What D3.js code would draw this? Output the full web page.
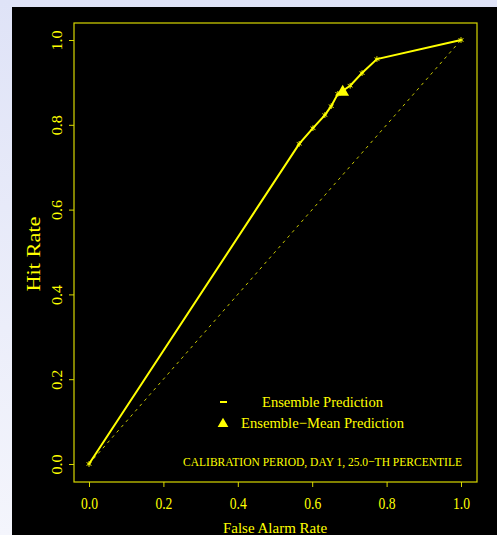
<!DOCTYPE html>
<html>
<head>
<meta charset="utf-8">
<script src="https://cdn.jsdelivr.net/npm/d3@7"></script>
<style>
  html, body { margin: 0; padding: 0; }
  body { width: 497px; height: 535px; overflow: hidden;
         background: linear-gradient(to bottom, #dfe3f7, #f4f5fc); }
  svg { display: block; }
</style>
</head>
<body>
<svg id="chart" width="497" height="535"></svg>
<script>
// ROC points
const falseAlarm = [0.0, 0.565, 0.602, 0.634, 0.651, 0.669, 0.702, 0.734, 0.774, 1.0];
const hitRate    = [0.0, 0.755, 0.792, 0.823, 0.844, 0.873, 0.892, 0.922, 0.955, 1.0];
const meanPoint = [0.682, 0.877];
const ticks = [0.0, 0.2, 0.4, 0.6, 0.8, 1.0];
const legendLabels = ['Ensemble Prediction', 'Ensemble\u2212Mean Prediction'];
const caption = 'CALIBRATION PERIOD, DAY 1, 25.0\u2212TH PERCENTILE';

const svg = d3.select('#chart');
const yellow = '#ffff00';
const serif = '"Liberation Serif", "DejaVu Serif", serif';

// black plotting panel
svg.append('rect')
  .attr('x', 12).attr('y', 7).attr('width', 485).attr('height', 528)
  .attr('fill', '#000');

const x = d3.scaleLinear().domain([0, 1]).range([89, 461]);
const y = d3.scaleLinear().domain([0, 1]).range([464, 40]);

// frame
svg.append('rect')
  .attr('x', 74).attr('y', 23).attr('width', 403).attr('height', 459)
  .attr('fill', 'none').attr('stroke', '#d8d800').attr('stroke-width', 1.2);

// axes
const xAxis = svg.append('g')
  .attr('transform', 'translate(0,482)')
  .call(d3.axisBottom(x).tickValues(ticks).tickFormat(d3.format('.1f')).tickSize(5).tickPadding(11));
const yAxis = svg.append('g')
  .attr('transform', 'translate(74,0)')
  .call(d3.axisLeft(y).tickValues(ticks).tickFormat(d3.format('.1f')).tickSize(5));

[xAxis, yAxis].forEach(g => {
  g.select('.domain').remove();
  g.selectAll('line').attr('stroke', '#d8d800');
  g.selectAll('text').attr('fill', yellow).style('font-family', serif).style('font-size', '15px');
});
xAxis.selectAll('text')
  .style('font-size', '16px')
  .attr('textLength', 17).attr('lengthAdjust', 'spacingAndGlyphs');
// rotated y tick labels, set inside each tick group
yAxis.selectAll('text')
  .attr('text-anchor', 'middle')
  .attr('x', 0).attr('y', 0).attr('dy', null)
  .attr('transform', 'translate(-12,0) rotate(-90)')
  .attr('textLength', 20).attr('lengthAdjust', 'spacingAndGlyphs');

// axis titles
svg.append('text')
  .attr('x', 275).attr('y', 533)
  .attr('text-anchor', 'middle').attr('fill', yellow)
  .style('font-family', serif).style('font-size', '15px')
  .text('False Alarm Rate');
svg.append('text')
  .attr('transform', 'translate(40,254) rotate(-90)')
  .attr('text-anchor', 'middle').attr('fill', yellow)
  .style('font-family', serif).style('font-size', '19px')
  .attr('textLength', 75).attr('lengthAdjust', 'spacingAndGlyphs')
  .text('Hit Rate');

// no-skill diagonal
svg.append('line')
  .attr('x1', x(0)).attr('y1', y(0)).attr('x2', x(1)).attr('y2', y(1))
  .attr('stroke', '#c8c800').attr('stroke-width', 1)
  .attr('stroke-dasharray', '3,4');

// ROC curve
const pts = falseAlarm.map((f, i) => [f, hitRate[i]]);
svg.append('path')
  .datum(pts)
  .attr('d', d3.line().x(d => x(d[0])).y(d => y(d[1])))
  .attr('fill', 'none').attr('stroke', yellow).attr('stroke-width', 2);

// small star markers
svg.append('g').selectAll('path')
  .data(pts)
  .join('path')
  .attr('d', d3.symbol(d3.symbolAsterisk, 22))
  .attr('transform', d => `translate(${x(d[0])},${y(d[1])})`)
  .attr('fill', 'none').attr('stroke', yellow).attr('stroke-width', 1);

// ensemble-mean triangle
svg.append('path')
  .attr('d', d3.symbol(d3.symbolTriangle, 70))
  .attr('transform', `translate(${x(meanPoint[0])},${y(meanPoint[1])})`)
  .attr('fill', yellow);

// legend
svg.append('line')
  .attr('x1', 220).attr('x2', 227).attr('y1', 402).attr('y2', 402)
  .attr('stroke', yellow).attr('stroke-width', 2);
svg.append('path')
  .attr('d', d3.symbol(d3.symbolTriangle, 50))
  .attr('transform', 'translate(223,424)')
  .attr('fill', yellow);
svg.append('text')
  .attr('x', 262).attr('y', 407)
  .attr('fill', yellow).style('font-family', serif).style('font-size', '15px')
  .attr('textLength', 121).attr('lengthAdjust', 'spacingAndGlyphs')
  .text(legendLabels[0]);
svg.append('text')
  .attr('x', 241).attr('y', 428)
  .attr('fill', yellow).style('font-family', serif).style('font-size', '15px')
  .attr('textLength', 163).attr('lengthAdjust', 'spacingAndGlyphs')
  .text(legendLabels[1]);

// caption
svg.append('text')
  .attr('x', 462).attr('y', 466)
  .attr('text-anchor', 'end')
  .attr('fill', yellow).style('font-family', serif).style('font-size', '13px')
  .attr('textLength', 279).attr('lengthAdjust', 'spacingAndGlyphs')
  .text(caption);
</script>
</body>
</html>
